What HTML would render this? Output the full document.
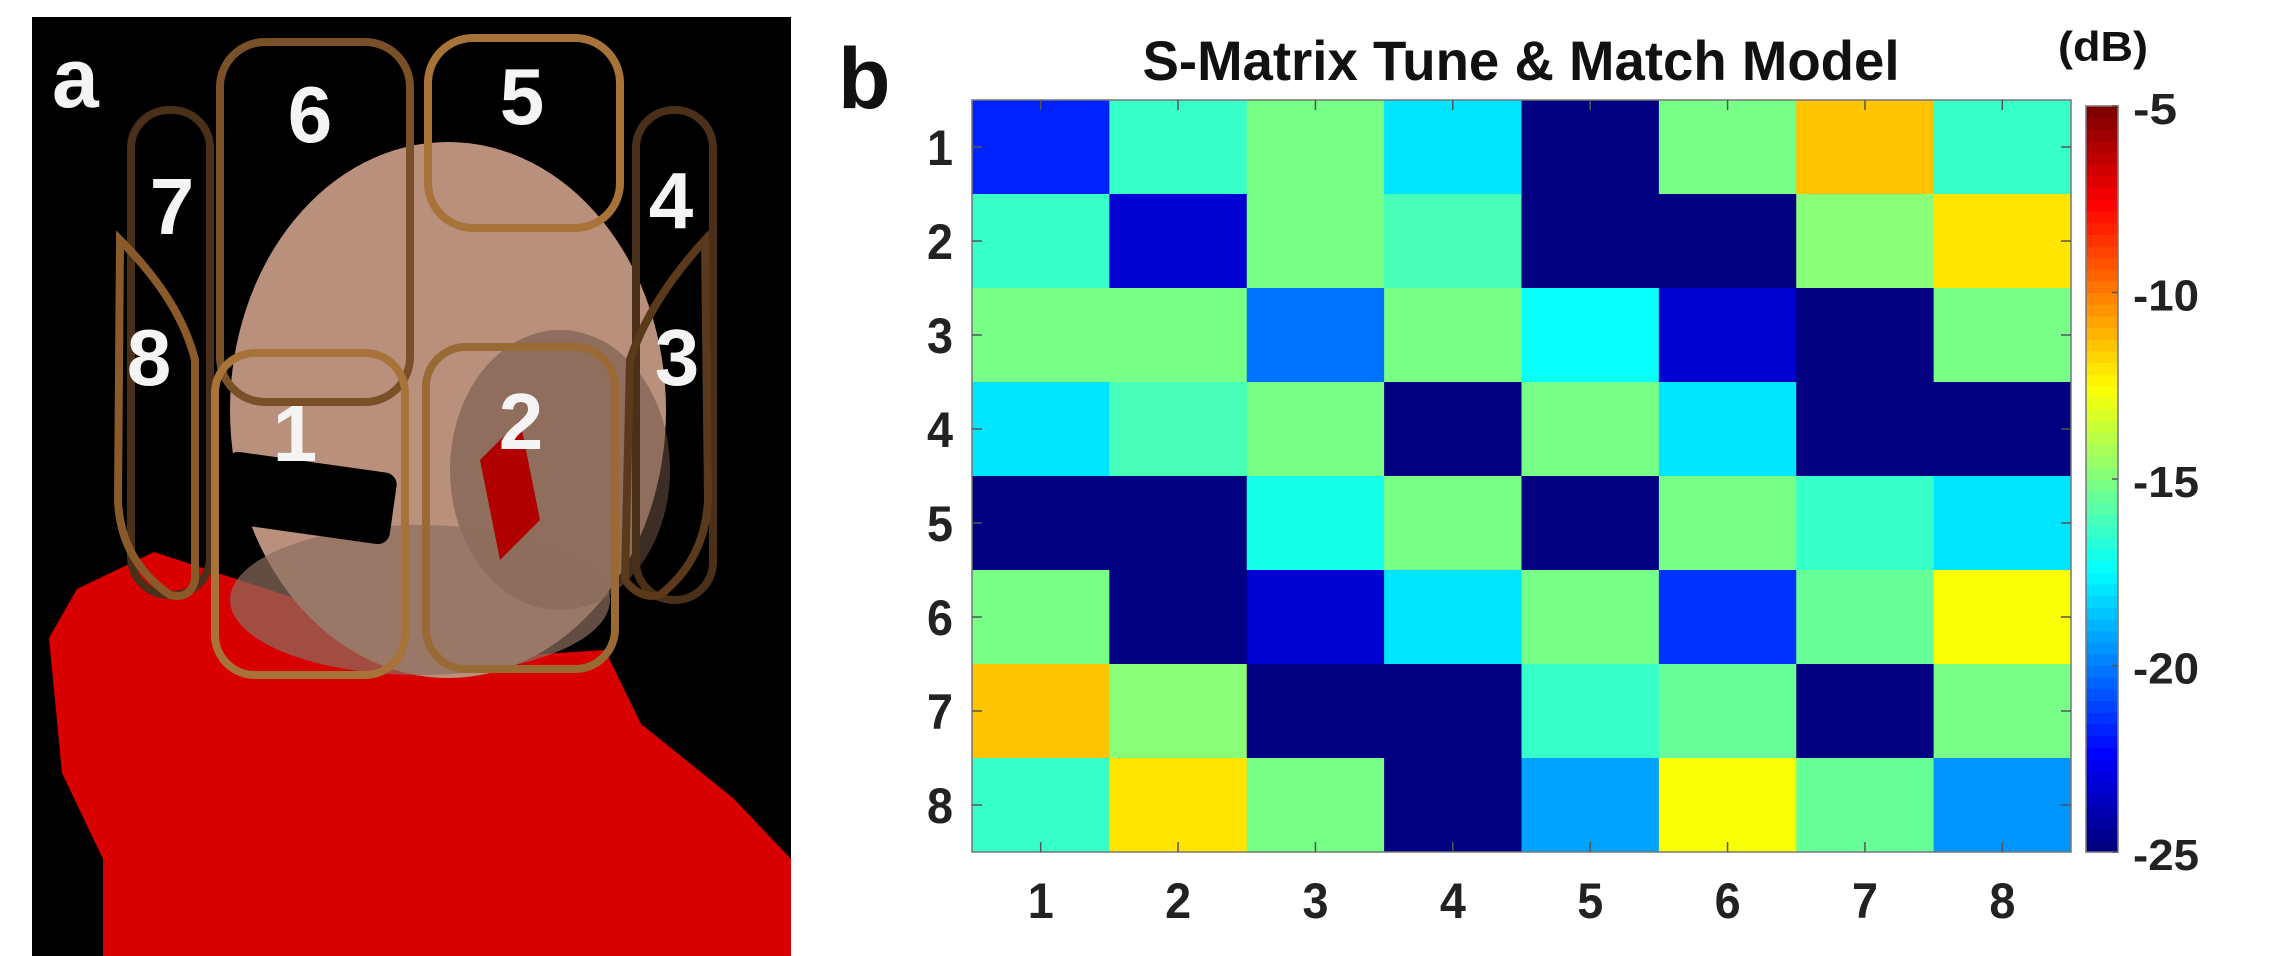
<!DOCTYPE html>
<html><head><meta charset="utf-8"><style>
html,body{margin:0;padding:0;background:#fff;}
svg{display:block;font-family:"Liberation Sans",Arial,sans-serif;font-weight:bold;}
</style></head><body>
<svg id="fig" width="2294" height="956" viewBox="0 0 2294 956" xmlns="http://www.w3.org/2000/svg">
<g>
  <rect x="32" y="17" width="759" height="939" fill="#000"/>
  <polygon fill="#d80000" points="49,638 77,589 154,552 300,600 450,660 605,650 641,724 733,798 791,859 791,956 103,956 103,859 62,773"/>
  <ellipse cx="448" cy="410" rx="218" ry="268" fill="#b8907c"/>
  <ellipse cx="560" cy="470" rx="110" ry="140" fill="#6e5244" opacity="0.55"/>
  <ellipse cx="420" cy="600" rx="190" ry="75" fill="#8c6e5e" opacity="0.7"/>
  <path d="M480,460 L520,420 L540,520 L500,560 Z" fill="#b00000"/>
  <g fill="none" stroke-width="8">
    <rect x="220" y="42" width="190" height="360" rx="45" stroke="#7a5028"/>
    <rect x="428" y="38" width="192" height="190" rx="45" stroke="#a87338"/>
    <rect x="131" y="110" width="79" height="485" rx="38" stroke="#4a3018"/>
    <rect x="636" y="110" width="77" height="490" rx="38" stroke="#4a3018"/>
    <path d="M120,240 Q180,300 195,360 L195,580 Q190,600 170,595 Q120,560 118,500 Z" stroke="#8a5a2a"/>
    <path d="M705,240 Q650,300 630,360 L625,580 Q640,600 660,595 Q705,560 708,500 Z" stroke="#5a3a1a"/>
    <rect x="215" y="353" width="190" height="322" rx="40" stroke="#a87338"/>
    <rect x="426" y="347" width="189" height="322" rx="40" stroke="#9a6a34"/>
  </g>
  <rect x="222" y="462" width="172" height="72" rx="12" fill="#000" transform="rotate(8 308 498)"/>
  <g fill="#f4f4f4" font-size="80" text-anchor="middle">
    <text x="310" y="142">6</text>
    <text x="522" y="124">5</text>
    <text x="172" y="234">7</text>
    <text x="671" y="228">4</text>
    <text x="149" y="385">8</text>
    <text x="677" y="385">3</text>
    <text x="295" y="461">1</text>
    <text x="521" y="449">2</text>
  </g>
  <text x="52" y="107" fill="#f4f4f4" font-size="84">a</text>
</g>
<text x="838" y="108" fill="#111" font-size="86">b</text>
<text x="1521" y="80" fill="#111" font-size="56" text-anchor="middle" textLength="757" lengthAdjust="spacingAndGlyphs">S-Matrix Tune &amp; Match Model</text>
<text x="2103" y="61" fill="#111" font-size="42" text-anchor="middle" textLength="90" lengthAdjust="spacingAndGlyphs">(dB)</text>
<g id="heat"></g>
<g id="cbar"></g>
</svg>
<script>
const rowLabels = ['1','2','3','4','5','6','7','8'];
const colLabels = ['1','2','3','4','5','6','7','8'];
const row1 = [-21.6,-16.3,-15.0,-18.1,-25,-15.3,-11.5,-16.3];
const row2 = [-16.3,-23.2,-15.3,-16.0,-25,-25,-14.7,-12.0];
const row3 = [-15.0,-15.3,-20.3,-15.3,-17.3,-23.4,-25,-15.0];
const row4 = [-17.9,-16.0,-15.3,-25,-15.0,-17.9,-25,-25];
const row5 = [-25,-25,-17.1,-15.0,-25,-15.0,-16.3,-18.1];
const row6 = [-15.0,-25,-23.4,-17.9,-15.0,-21.3,-15.4,-12.6];
const row7 = [-11.5,-14.7,-25,-25,-16.3,-15.4,-25,-15.3];
const row8 = [-16.3,-12.0,-15.0,-25,-19.2,-12.5,-15.6,-19.5];
const cbarTicks = [-5,-10,-15,-20,-25];
const cmin = -25, cmax = -5;

const rows = [row1,row2,row3,row4,row5,row6,row7,row8];
const NS = 'http://www.w3.org/2000/svg';
const L = 972, R = 2071, T = 100, B = 852;
const cw = (R - L) / colLabels.length, ch = (B - T) / rowLabels.length;
const xPos = i => L + i * cw;
const yPos = j => T + j * ch;
function clamp(v){return Math.max(0, Math.min(1, v));}
function jet(t){
  const r = clamp(1.5 - Math.abs(4*t - 3)), g = clamp(1.5 - Math.abs(4*t - 2)), b = clamp(1.5 - Math.abs(4*t - 1));
  return 'rgb(' + Math.round(r*255) + ',' + Math.round(g*255) + ',' + Math.round(b*255) + ')';
}
function colorOf(v){
  let t = (v - cmin) / (cmax - cmin);
  t = Math.floor(clamp(t) * 63.999) / 63;
  return jet(t);
}
function mk(tag, attrs, parent){
  const e = document.createElementNS(NS, tag);
  for (const k in attrs) e.setAttribute(k, attrs[k]);
  parent.appendChild(e);
  return e;
}
const heat = document.getElementById('heat');
rows.forEach((row, j) => {
  row.forEach((v, i) => {
    const c = mk('rect', {x: xPos(i), y: yPos(j), width: cw + 0.5, height: ch + 0.5, fill: colorOf(v)}, heat);
    
    
  });
});
const frame = mk('rect', {x: L, y: T, width: R - L, height: B - T, fill: 'none', stroke: '#777', 'stroke-width': 1.5}, heat);


colLabels.forEach((lab, i) => {
  const cx = xPos(i) + cw / 2;
  mk('line', {x1: cx, y1: T, x2: cx, y2: T + 10, stroke: '#555', 'stroke-width': 1.5}, heat);
  mk('line', {x1: cx, y1: B, x2: cx, y2: B - 10, stroke: '#555', 'stroke-width': 1.5}, heat);
  const t = mk('text', {x: cx, y: 918, 'text-anchor': 'middle', 'font-size': 50, fill: '#222', textLength: 26, lengthAdjust: 'spacingAndGlyphs'}, heat);
  t.textContent = lab;
  
  
});
rowLabels.forEach((lab, j) => {
  const cy = yPos(j) + ch / 2;
  mk('line', {x1: L, y1: cy, x2: L + 10, y2: cy, stroke: '#555', 'stroke-width': 1.5}, heat);
  mk('line', {x1: R, y1: cy, x2: R - 10, y2: cy, stroke: '#555', 'stroke-width': 1.5}, heat);
  const t = mk('text', {x: 953, y: cy + 18, 'text-anchor': 'end', 'font-size': 50, fill: '#222', textLength: 26, lengthAdjust: 'spacingAndGlyphs'}, heat);
  t.textContent = lab;
  
  
});
const cbar = document.getElementById('cbar');
const CX = 2086, CW = 32, CT = 106, CB = 852;
const cy = v => CT + (cmax - v) / (cmax - cmin) * (CB - CT);
for (let k = 0; k < 64; k++){
  const h = (CB - CT) / 64;
  const s = mk('rect', {x: CX, y: CB - (k + 1) * h, width: CW, height: h + 0.6, fill: jet(k / 63)}, cbar);
  
  
}
mk('rect', {x: CX, y: CT, width: CW, height: CB - CT, fill: 'none', stroke: '#777', 'stroke-width': 1.5}, cbar);
cbarTicks.forEach(v => {
  const y = cy(v);
  mk('line', {x1: CX + CW, y1: y, x2: CX + CW - 6, y2: y, stroke: '#555', 'stroke-width': 1.5}, cbar);
  const s = String(v);
  const t = mk('text', {x: 2133, y: y + 18, 'font-size': 44, fill: '#222', textLength: s.length * 22, lengthAdjust: 'spacingAndGlyphs'}, cbar);
  t.textContent = s;
  
  
});
</script>
</body></html>
